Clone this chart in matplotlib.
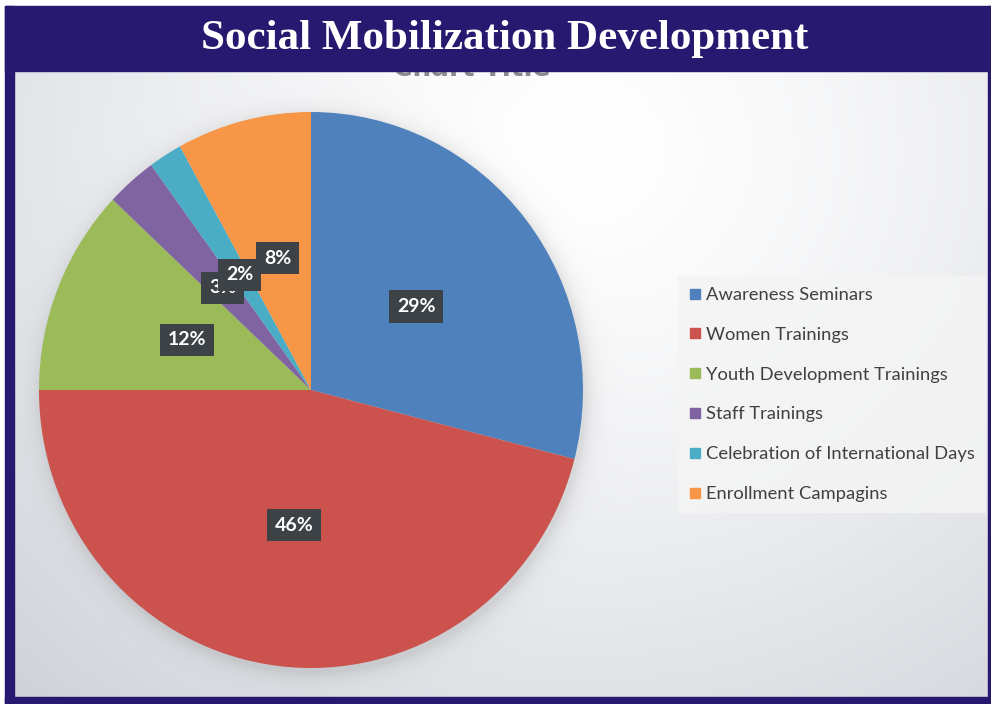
import numpy as np
import matplotlib
matplotlib.use("Agg")
import matplotlib.pyplot as plt
from matplotlib.patches import Rectangle
from matplotlib.lines import Line2D

# data
categories = ["Awareness Seminars", "Women Trainings", "Youth Development Trainings",
              "Staff Trainings", "Celebration of International Days", "Enrollment Campagins"]
shares = [29, 46, 12, 3, 2, 8]
colors = ["#4f81bd", "#cb524d", "#9bbb59", "#8064a2", "#4bacc6", "#f79646"]

W, H = 991, 704
NAVY = "#27196f"

fig = plt.figure(figsize=(W / 100, H / 100), dpi=100)

# background layer in pixel coordinates
bg = fig.add_axes([0, 0, 1, 1])
bg.set_xlim(0, W)
bg.set_ylim(H, 0)
bg.axis("off")

yy, xx = np.mgrid[0:H, 0:W]
d = np.hypot(xx - 580, (yy - 150) * 1.1)
t = np.clip(d / 800, 0, 1) ** 1.4
white = np.array([1.0, 1.0, 1.0])
gray = np.array([0.82, 0.83, 0.855])
img = white[None, None, :] * (1 - t[..., None]) + gray[None, None, :] * t[..., None]
# soft shadow around the pie
dp = np.hypot((xx - 313) / 272, (yy - 394) / 278)
shade = np.where(dp > 1, 0.10 * np.exp(-(dp - 1) * 272 / 9), 0.10)
img = img * (1 - shade[..., None])
bg.imshow(img, extent=[0, W, H, 0], aspect="auto", zorder=0)

# ghost of the clipped "Chart Title" (only its lower edge peeks out)
bg.text(472, 69, "Chart Title", ha="center", va="center", fontsize=19,
        fontweight="bold", color="#8a8a8a", family="DejaVu Sans", zorder=1)

# white outer margin and navy frame
bg.add_patch(Rectangle((0, 0), W, 6, color="white", zorder=2))
bg.add_patch(Rectangle((0, 0), 5, H, color="white", zorder=2))
bg.add_patch(Rectangle((5, 6), W - 5, 65, color=NAVY, zorder=3))
bg.add_patch(Rectangle((5, 6), 9, H - 6, color=NAVY, zorder=3))
bg.add_patch(Rectangle((5, 697), W - 5, 7, color=NAVY, zorder=3))
bg.add_patch(Rectangle((988, 6), 3, H - 6, color=NAVY, zorder=3))

bg.text(505, 39, "Social Mobilization Development", ha="center", va="center",
        fontsize=31, fontweight="bold", color="white", family="Liberation Serif",
        zorder=4)

# pie
ax = fig.add_axes([(311 - 272) / W, (H - 390 - 278) / H, 544 / W, 556 / H])
wedges, texts, autotexts = ax.pie(
    shares, colors=colors, startangle=90, counterclock=False,
    autopct="%1.0f%%", pctdistance=0.49,
    wedgeprops=dict(linewidth=0),
    textprops=dict(color="white", fontsize=14, fontweight="bold", family="Lato"))
for at in autotexts:
    at.set_bbox(dict(boxstyle="square,pad=0.4", fc="#3d4247", ec="none"))
ax.set_aspect("auto")
ax.set_xlim(-1, 1)
ax.set_ylim(-1, 1)
ax.axis("off")

handles = [Line2D([], [], marker="s", linestyle="none", markersize=7,
                  markerfacecolor=c, markeredgecolor=c) for c in colors]
leg = fig.legend(handles, categories, loc="upper left",
                 bbox_to_anchor=(678 / W, 1 - 276 / H),
                 prop=dict(family="Lato", size=13.2), labelcolor="#404040",
                 frameon=True, fancybox=False, facecolor="#f4f4f4", edgecolor="none",
                 framealpha=0.85, labelspacing=1.3, handlelength=0.6,
                 handletextpad=0.35, borderpad=0.6, borderaxespad=0)

fig.savefig("out.png", dpi=100)
